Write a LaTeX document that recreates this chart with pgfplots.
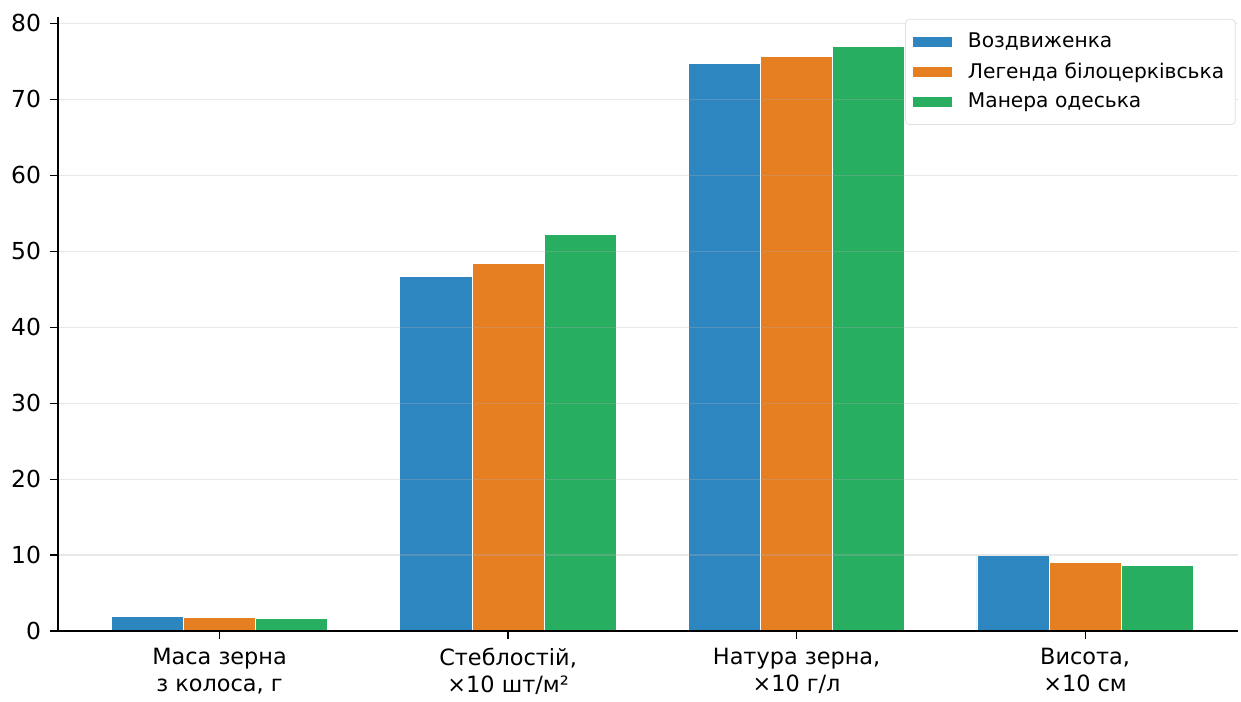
\documentclass[border=0pt]{standalone}
\usepackage{pgfplots}
\pgfplotsset{compat=1.18}
\usepackage{fontspec}
\setmainfont{DejaVu Sans}

\definecolor{cblue}{HTML}{2E86C1}
\definecolor{corange}{HTML}{E67E22}
\definecolor{cgreen}{HTML}{27AE60}

\begin{document}
\begin{tikzpicture}
\begin{axis}[
    scale only axis,
    width=590pt, height=307pt,
    ybar=0pt,
    bar width=0.25,
    xmin=-0.56, xmax=3.53,
    ymin=0, ymax=80.85,
    xtick={0,1,2,3},
    xticklabels={{Маса зерна\\з колоса, г},{Стеблостій,\\×10 шт/м²},{Натура зерна,\\×10 г/л},{Висота,\\×10 см}},
    xticklabel style={align=center, font=\fontsize{11.2}{13.5}\selectfont, yshift=-1pt},
    ytick={0,10,...,80},
    yticklabel style={font=\fontsize{11.7}{14}\selectfont, xshift=-1pt},
    /pgf/number format/assume math mode=true,
    axis x line*=bottom,
    axis y line*=left,
    axis line style={black, line width=0.6pt},
    tick align=outside,
    major tick length=4pt,
    tick style={black, line width=0.6pt},
    ymajorgrids,
    major grid style={gray!60, opacity=0.3, line width=0.6pt},
    axis on top,
    legend cell align=left,
    legend style={at={(rel axis cs:0.998,0.997)}, anchor=north east,
        draw=gray!25, rounded corners=2pt, fill=white,
        font=\fontsize{10.1}{12.2}\selectfont,
        row sep=1.8pt, inner xsep=3.5pt, inner ysep=5pt},
    legend image code/.code={%
        \fill[#1, draw=none, sharp corners] (0pt,-2.5pt) rectangle (19.5pt,2.5pt);
        \path (25.5pt,0pt);},
]
\addplot[fill=cblue, draw=white, line width=0.4pt] coordinates {(0,1.9) (1,46.7) (2,74.7) (3,9.9)};
\addplot[fill=corange, draw=white, line width=0.4pt] coordinates {(0,1.75) (1,48.4) (2,75.6) (3,9.0)};
\addplot[fill=cgreen, draw=white, line width=0.4pt] coordinates {(0,1.6) (1,52.2) (2,77.0) (3,8.6)};
\legend{Воздвиженка, Легенда білоцерківська, Манера одеська}
\end{axis}
\path (-29pt,315.5pt) (591.5pt,-33pt);
\end{tikzpicture}
\end{document}
